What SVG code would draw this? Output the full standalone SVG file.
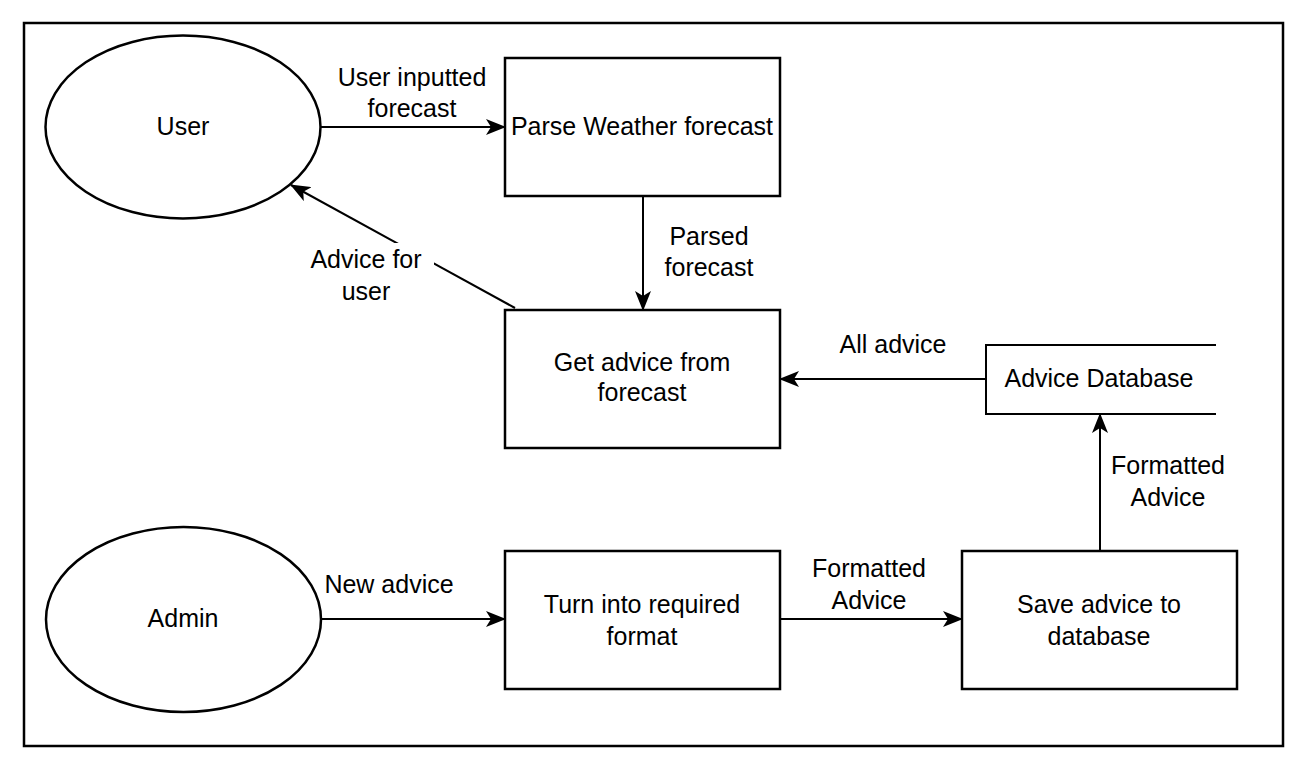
<svg xmlns="http://www.w3.org/2000/svg" width="1308" height="770" viewBox="0 0 1308 770">
<style>
.shape{fill:#fff;stroke:#000;stroke-width:2.5}
.line{fill:none;stroke:#000;stroke-width:2}
text{font-family:"Liberation Sans",Arial,sans-serif;font-size:25px;fill:#000;text-anchor:middle}
</style>
<defs>
<marker id="arr" viewBox="0 0 20 16" refX="19" refY="8" markerWidth="20" markerHeight="16" markerUnits="userSpaceOnUse" orient="auto">
<path d="M0,0 L20,8 L0,16 L5,8 Z" fill="#000"/>
</marker>
</defs>
<rect x="0" y="0" width="1308" height="770" fill="#fff"/>
<rect id="frame" x="24" y="23" width="1259" height="723" fill="none" stroke="#000" stroke-width="2.5"/>

<g id="connectors">
<line class="line" x1="321" y1="127" x2="505" y2="127" marker-end="url(#arr)"/>
<line class="line" x1="643" y1="196" x2="643" y2="310" marker-end="url(#arr)"/>
<line class="line" x1="515" y1="308" x2="291" y2="185" marker-end="url(#arr)"/>
<line class="line" x1="986" y1="379" x2="780" y2="379" marker-end="url(#arr)"/>
<line class="line" x1="1100" y1="551" x2="1100" y2="414" marker-end="url(#arr)"/>
<line class="line" x1="321" y1="619" x2="505" y2="619" marker-end="url(#arr)"/>
<line class="line" x1="780" y1="619" x2="962" y2="619" marker-end="url(#arr)"/>
<rect x="300" y="243" width="134" height="62" fill="#fff"/>
<text x="412" y="86">User inputted</text>
<text x="412" y="117">forecast</text>
<text x="709" y="245">Parsed</text>
<text x="709" y="276">forecast</text>
<text x="366" y="268">Advice for</text>
<text x="366" y="300">user</text>
<text x="893" y="353">All advice</text>
<text x="1168" y="474">Formatted</text>
<text x="1168" y="506">Advice</text>
<text x="389" y="593">New advice</text>
<text x="869" y="577">Formatted</text>
<text x="869" y="609">Advice</text>
</g>

<g id="user">
<ellipse class="shape" cx="183" cy="127" rx="137.5" ry="91.5"/>
<text x="183" y="135">User</text>
</g>
<g id="parse">
<rect class="shape" x="505" y="58" width="275" height="138"/>
<text x="642" y="135">Parse Weather forecast</text>
</g>
<g id="getadvice">
<rect class="shape" x="505" y="310" width="275" height="138"/>
<text x="642" y="371">Get advice from</text>
<text x="642" y="401">forecast</text>
</g>
<g id="database">
<rect x="986" y="345" width="230" height="69" fill="#fff"/>
<path class="line" d="M1216,345 H986 V414 H1216" stroke-width="2.5"/>
<text x="1099" y="387">Advice Database</text>
</g>
<g id="admin">
<ellipse class="shape" cx="183.5" cy="619.5" rx="137.5" ry="92.5"/>
<text x="183" y="627">Admin</text>
</g>
<g id="turn">
<rect class="shape" x="505" y="551" width="275" height="138"/>
<text x="642" y="613">Turn into required</text>
<text x="642" y="645">format</text>
</g>
<g id="save">
<rect class="shape" x="962" y="551" width="275" height="138"/>
<text x="1099" y="613">Save advice to</text>
<text x="1099" y="645">database</text>
</g>
</svg>
